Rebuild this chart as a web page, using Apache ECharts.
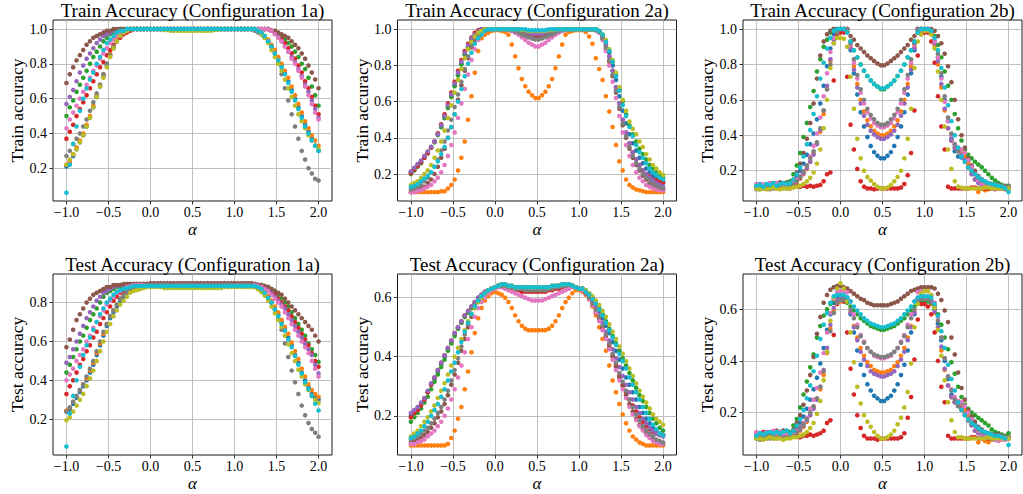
<!DOCTYPE html>
<html><head><meta charset="utf-8">
<script src="https://cdn.jsdelivr.net/npm/echarts/dist/echarts.min.js"></script>
<style>html,body{margin:0;padding:0;background:#fff}#c{width:1023px;height:494px}</style>
</head><body><div id="c"></div>
<script>
// ---------------- DATA ----------------
const alphas = [-1.00,-0.96,-0.92,-0.88,-0.84,-0.80,-0.76,-0.72,-0.68,-0.64,-0.60,-0.56,-0.52,-0.48,-0.44,-0.40,-0.36,-0.32,-0.28,-0.24,-0.20,-0.16,-0.12,-0.08,-0.04,
0.00,0.04,0.08,0.12,0.16,0.20,0.24,0.28,0.32,0.36,0.40,0.44,0.48,0.52,0.56,0.60,0.64,0.68,0.72,0.76,0.80,0.84,0.88,0.92,0.96,
1.00,1.04,1.08,1.12,1.16,1.20,1.24,1.28,1.32,1.36,1.40,1.44,1.48,1.52,1.56,1.60,1.64,1.68,1.72,1.76,1.80,1.84,1.88,1.92,1.96,2.00];

const seriesNames = ['run 1','run 2','run 3','run 4','run 5','run 6','run 7','run 8','run 9','run 10'];
const titles = ['Train Accuracy (Configuration 1a)','Train Accuracy (Configuration 2a)','Train Accuracy (Configuration 2b)',
                'Test Accuracy (Configuration 1a)','Test Accuracy (Configuration 2a)','Test Accuracy (Configuration 2b)'];
const yAxisTitles = ['Train accuracy','Train accuracy','Train accuracy','Test accuracy','Test accuracy','Test accuracy'];
const xAxisTitle = 'α';
const xTicks = [-1.0,-0.5,0.0,0.5,1.0,1.5,2.0];
const yTicksTrain = [0.2,0.4,0.6,0.8,1.0];
const yTicksTest1a = [0.2,0.4,0.6,0.8];
const yTicksTest2 = [0.2,0.4,0.6];

// accuracies in percent, one value per alpha
// ---- Train 1a ----
const tr1a_blue = [21,23,27,31,35,39,44,49,55,61,67,73,79,85,89,93,96,98,99,100,100,100,100,100,100,
100,100,100,100,100,100,100,100,100,100, 100,100,100,100,100,100,100,100,100,100, 100,100,100,100,100,100,100,100,100,100, 100,
100,99,97,95,93,90,87,83,79,75,70,65,60,55,50,45,41,37,33,30];
const tr1a_orange = [22,24,28,32,36,40,45,50,56,62,68,74,80,86,90,94,96,98,99,100,100,100,100,100,100,
100,100,100,100,100,100,100,100,100,100, 100,100,100,100,100,100,100,100,100,100, 100,100,100,100,100,100,100,100,100,100, 100,
100,99,98,96,94,91,88,84,80,76,72,67,62,57,52,47,43,39,36,33];
const tr1a_green = [50,55,59,64,68,72,76,80,84,87,90,93,95,97,98,99,100,100,100,100,100,100,100,100,100,
100,100,100,100,100,100,100,100,100,100, 100,100,100,100,100,100,100,100,100,100, 100,100,100,100,100,100,100,100,100,100, 100,
100,100,100,100,100,99,98,97,96,94,92,90,87,84,80,77,72,67,62,56];
const tr1a_red = [37,41,45,50,54,58,62,66,70,74,78,81,85,88,91,93,95,97,98,99,100,100,100,100,100,
100,100,100,100,100,100,100,100,100,100, 100,100,100,100,100,100,100,100,100,100, 100,100,100,100,100,100,100,100,100,100, 100,
100,100,100,100,100,99,98,96,94,92,89,86,83,79,75,70,66,61,56,51];
const tr1a_purple = [57,61,65,70,75,79,83,86,89,92,94,96,97,98,99,99,100,100,100,100,100,100,100,100,100,
100,100,100,100,100,100,100,100,100,100, 100,100,100,100,100,100,100,100,100,100, 100,100,100,100,100,100,100,100,100,100, 100,
100,100,100,100,100,99,98,96,93,90,87,84,81,77,73,68,64,59,54,49];
const tr1a_brown = [69,74,78,82,85,88,91,93,95,96,97,98,99,99,100,100,100,100,100,100,100,100,100,100,100,
100,100,100,100,100,100,100,100,100,100, 100,100,100,100,100,100,100,100,100,100, 100,100,100,100,100,100,100,100,100,100, 100,
100,100,100,100,100,99,99,98,97,96,95,93,91,89,86,83,79,75,71,66];
const tr1a_pink = [43,48,52,56,60,64,68,72,76,79,83,86,89,92,94,96,97,98,99,100,100,100,100,100,100,
100,100,100,100,100,100,100,100,100,100, 100,100,100,100,100,100,100,100,100,100, 100,100,100,100,100,100,100,100,100,100, 100,
100,100,100,100,100,99,97,95,93,90,87,83,80,76,72,67,62,57,52,48];
const tr1a_gray = [27,30,34,37,40,44,48,53,58,63,68,74,80,85,90,93,96,98,99,100,100,100,100,100,100,
100,100,100,100,100,100,100,100,100,100, 100,100,100,100,100,100,100,100,100,100, 100,100,100,100,100,100,100,100,100,100, 100,
99,98,97,95,93,90,86,81,74,66,59,51,44,37,30,25,20,17,14,13];
const tr1a_olive = [22,25,28,31,35,39,44,49,55,61,67,72,78,84,89,93,96,98,99,100,100,100,100,100,100,
100,100,100,100,99.5,99.5,99,99,99,99, 99,99,99,99,99,99,99,99,99,99.5, 99.5,100,100,100,100,100,100,100,100,100, 100,
100,99,97,95,92,88,84,80,76,71,66,61,56,51,47,43,39,36,33,31];
const tr1a_cyan = [6,22,34,44,53,60,66,71,75,80,84,88,92,94,96,98,99,99,100,100,100,100,100,100,100,
100,100,100,100,100,100,100,100,100,100, 100,100,100,100,100,100,100,100,100,100, 100,100,100,100,100,100,100,100,100,100, 100,
100,99,98,96,93,90,86,82,78,74,69,64,59,54,49,44,40,36,33,30];

// ---- Test 1a ----
const te1a_blue = [24,25,28,31,34,37,40,44,48,53,58,63,68,72,75,78,81,83,85,86,87,87.5,88,88,88.5,
88.5,88.5,88.5,88.5,88.5,88.5,88.5,88.5,88.5,88.5, 88.5,88.5,88.5,88.5,88.5,88.5,88.5,88.5,88.5,88.5, 88.5,88.5,88.5,88.5,88.5,88.5,88.5,88.5,88.5,88.5, 88.5,
88.5,88,86.5,84.5,83,80,77,74,70,67,62,58,53,49,44,40,36.5,33,31,30];
const te1a_orange = [24.5,26,29,32,35,38,41,45,49,54,59,64,69,73,76,79,82,84,85.5,86.5,87.5,88,88.5,88.5,89,
89,89,89,89,89,89,89,89,89,89, 89,89,89,89,89,89,89,89,89,89, 89,89,89,89,89,89,89,89,89,89, 89,
89,88,87,85.5,83.5,81,78,75,71,67.5,64,59.5,55,51,46,42,38,35,33,31.5];
const te1a_green = [44,48,52,56,60,63,67,71,74,77,80,83,85,86,87,88,88.5,89,89,89.5,89.5,89.5,89.5,89.5,89.5,
89.5,89.5,89.5,89.5,89.5,89.5,89.5,89.5,89.5,89.5, 89.5,89.5,89.5,89.5,89.5,89.5,89.5,89.5,89.5,89.5, 89.5,89.5,89.5,89.5,89.5,89.5,89.5,89.5,89.5,89.5, 89.5,
89.5,89,89,88.5,88,87,86,84,82,80,78,75,72,69,66,63,59,56,53,49.5];
const te1a_red = [33,37,40,44,48,51,55,58,62,65,69,72,75,78,81,83,85,86,87,88,88.5,89,89,89.5,89.5,
89.5,89.5,89.5,89.5,89.5,89.5,89.5,89.5,89.5,89.5, 89.5,89.5,89.5,89.5,89.5,89.5,89.5,89.5,89.5,89.5, 89.5,89.5,89.5,89.5,89.5,89.5,89.5,89.5,89.5,89.5, 89.5,
89.5,89,88.5,88,87,86,84,82,80,78,76,73,70,67,64,61,58,54,50,47];
const te1a_purple = [49,52,56,60,64,68,72,75,78,81,83,85,86,87,88,88.5,89,89,89.5,89.5,89.5,89.5,89.5,89.5,89.5,
89.5,89.5,89.5,89.5,89.5,89.5,89.5,89.5,89.5,89.5, 89.5,89.5,89.5,89.5,89.5,89.5,89.5,89.5,89.5,89.5, 89.5,89.5,89.5,89.5,89.5,89.5,89.5,89.5,89.5,89.5, 89.5,
89,89,88.5,87.5,86.5,85,83,81,79,77,74,71,68,65,62,59,56,53,48,43.5];
const te1a_brown = [57,61,66,71,74,77,80,82,84,85,86,87,88,88,89,89,89,89.5,89.5,89.5,89.5,89.5,89.5,89.5,89.5,
90,90,90,90,90,90,90,90,90,90, 90,90,90,90,90,90,90,90,90,90, 90,90,90,90,90,90,90,90,90,90, 90,
89.5,89,89,88.5,88,87,86,85,84,82,80,78,76,74,72,70,68,66,63,60];
const te1a_pink = [40,43,46,50,53,56,60,63,67,70,73,76,79,81,83,85,86,87,88,88.5,89,89,89,89,89,
89,89,89,89,89,89,89,89,89,89, 89,89,89,89,89,89,89,89,89,89, 89,89,89,89,89,89,89,89,89,89, 89,
89,88.5,88,87,86,84,82,80,78,75,72,69,66,63,60,57,54,50,46,42];
const te1a_gray = [24,26,29,32,35,38,42,46,50,55,60,65,69,73,76,79,82,84,85.5,86.5,87.5,88,88.5,88.5,89,
89,89,89,89,89,89,89,89,89,89, 89,89,89,89,89,89,89,89,89,89, 89,89,89,89,89,89,89,89,89,89, 89,
88,87,86,84.5,82.5,80,76.5,72,66,59,52,45,39,33,27,22,18,15,13,11];
const te1a_olive = [19.5,21,24,27,30,33,37,41,45,50,55,60,65,69,73,76,79,81,83,85,86,86.5,87,87.5,88,
88,88,88,88,87.5,87.5,87.5,87.5,87.5,87.5, 87.5,87.5,87.5,87.5,87.5,87.5,87.5,87.5,87.5,87.5, 87.5,87.5,88,88,88,88,88,88,88,88, 88,
88,87,85.5,83.5,81,78,74.5,71,67.5,63,58.5,54,50,45.5,42,38,35,32,30,28.5];
const te1a_cyan = [6,23,32,40,47,53,58,62,66,70,74,77,80,82,84,85.5,86.5,87,87.5,88,88.5,88.5,88.5,88.5,88.5,
88.5,88.5,88.5,88.5,88.5,88.5,88.5,88.5,88.5,88.5, 88.5,88.5,88.5,88.5,88.5,88.5,88.5,88.5,88.5,88.5, 88.5,88.5,88.5,88.5,88.5,88.5,88.5,88.5,88.5,88.5, 88.5,
88.5,88,87,85,82.5,80,76.5,73,69,65.5,61,57,52.5,48,43.5,39,35.5,32,28,24.5];

// ---- Train 2a ----
const tr2a_blue = [21,23,25,27,29.5,32,35,38,42,46,51,57,63,69,75,81,86,90,94,97,99,100,100,100,100,
100,100,100,100,100,99.5,99.5,99,98.5,98,97.5,97,96.5,96.5,97,97.5,98,98.5,99,99.5,99.5,100,100,100,100,100,
100,100,100,100,100,99,96,92,87,80,72,63,55,48,42,37,33,29,26,23,21,19,17.5,16,15];
const tr2a_orange = [10,10,10,10,10,10,10,10,10,10.5,10.5,12,14,17,22,29,38,50,63,76,88,95,97,98,99,
99.5,99.5,99,98.5,97,91.5,85,78.5,72.5,68.5,65.5,63.5,62,62,63.5,65.5,68.5,72.5,78.5,85,91.5,97,98.5,99,99.5,99.5,
99.5,98.5,96,92,84,78,72,63,54.5,46,36,27,22,17,14,12.5,11.5,11,10.5,10,10,10,10,10,10];
const tr2a_green = [20,22,24,26,29,31.5,34.5,37.5,41.5,46,51,56.5,62.5,68.5,74.5,80.5,86,90.5,94.5,97,99,100,100,100,100,
100,100,100,100,100,100,100,99.5,99,99,98.5,98,98,98,98,98.5,99,99,99.5,100,100,100,100,100,100,100,
100,100,100,100,100,99,97,93,88,82,75,67,60,53,47,42,38,34,31,28,25,23,21,19.5,18];
const tr2a_red = [20.5,22.5,24.5,26.5,29,31.5,34.5,38,42.5,47.5,53,59,65,71,77,83,88,92,95.5,98,99.5,100,100,100,100,
100,100,100,100,100,99.5,99,98.5,98,97.5,96.5,96,95.5,95.5,96,96.5,97.5,98,98.5,99,99.5,100,100,100,100,100,
100,100,100,100,100,99,96,91,85,77,68,59,50,43,37,32,28,25,22,20,18.5,17,16.5,16,15.5];
const tr2a_purple = [21.5,23.5,25.5,27.5,30,32.5,35,38,42,47,52,58,64,70,76,82,87,91,95,97,99,100,100,100,100,
100,100,100,100,100,100,99.5,99.5,99,98.5,98,97.5,97.5,97.5,97.5,98,98.5,99,99.5,99.5,100,100,100,100,100,100,
100,100,100,100,100,99,96,91,85,77,68,59,50,43,37,32,28,25,22,20,18,16.5,15,14,13];
const tr2a_brown = [10,10.5,11,12,13,15,17,20,24,29,34,40,46,53,61,69,77,84,90,94,97,99,100,100,100,
100,100,100,100,100,99.5,99,98.5,97.5,96.5,96,95,94.5,94.5,95,96,96.5,97.5,98.5,99,99.5,100,100,100,100,100,
100,100,100,100,99.5,98.5,95,89,82,74,65,56,47,40,34,29,25,22,19,17,15,13.5,12.5,12,11.5];
const tr2a_pink = [10,10,10.5,11,12,13,14,16,18,21,25,30,36,43,51,59,67,75,83,89,94,97,99,100,100,
100,100,100,100,99.5,99,98,97,95.5,94,92.5,91.5,90.5,90.5,91.5,92.5,94,95.5,97,98,99,99.5,100,100,100,100,
100,100,100,100,99.5,98,94,88,80,71,62,52,43,36,30,25,21,18,16,14,13,12,11.5,11,11];
const tr2a_gray = [11.5,12,13,14,16,18,21,24,28,33,38,44,50,57,64,71,78,85,91,95,98,99,100,100,100,
100,100,100,100,100,99.5,99,98,97,96.5,95.5,95,94.5,94.5,95,95.5,96.5,97,98,99,99.5,100,100,100,100,100,
100,100,100,100,99.5,98.5,95,90,83,75,66,57,48,41,35,30,26,23,20,18,16,14.5,13.5,12.5,12];
const tr2a_olive = [14,15,16,18,20,22,25,29,33,38,44,51,58,65,72,78,84,89,93,96,98,99,100,100,100,
100,100,100,100,100,100,100,100,99.5,99.5,99,99,99,99,99,99,99.5,99.5,100,100,100,100,100,100,100,100,
100,100,100,100,100,99,97,94,89,83,76,68,61,55,49,45,42,38,35,31,28,25,23,21,19.5];
const tr2a_cyan = [13,13.5,14.5,16,17.5,19,21,24,27,31,35,40,46,53,60,67,74,81,87,92,95,97,99,100,100,
100,100,100,100,100,100,100,100,100,100,99.5,99.5,99.5,99.5,99.5,99.5,100,100,100,100,100,100,100,100,100,100,
100,100,100,100,100,99,97,93,88,82,74,66,58,52,46,41,36,32,29,26,23,21,19.5,18,17];

// ---- Test 2a ----
const te2a_blue = [20,21,22.5,24,25.5,28,30.5,32.5,35,37.5,40,42.5,45,47.5,49.5,51.5,53.5,55,56.5,58,59.5,60.5,61.5,62.5,63,
63.5,64,64,64,63.5,63.5,63,63,63,63,63,63,63,63,63,63,63,63.5,63.5,64,64,64,64.5,64,63.5,63,
63,62,60.5,59,57.5,55.5,53,50.5,48,45,42,39,36,33,30.5,28,25.5,23,21,19,17.5,16,15,14,13.5];
const te2a_orange = [10,10,10,10,10,10,10,10,10,10,10,10.5,12.5,15,19,23,29,35,41.5,48,53,56.5,59,60.5,61.5,
62,61.5,61,60,58.5,56.5,54,52,50.5,49.5,49,49,49,49,49,49,49.5,50.5,52,54,56.5,58.5,60,61.5,62.5,62.5,
62,61,59.5,57,54,50,46,42,37,32,28,24,20.5,17.5,15,13,12,11,10.5,10,10,10,10,10,10];
const te2a_green = [18,19.5,21,22.5,24.5,26.5,29,31.5,34,36.5,39,42,44.5,47,49.5,51.5,53.5,55,56.5,58,59.5,60.5,61.5,62.5,63,
63.5,64,64,64,63.5,63.5,63,63,63,63,63,63,63,63,63,63,63,63.5,63.5,64,64,64,64.5,64,63.5,63,
63,62.5,61.5,60,58.5,56.5,54.5,52,49.5,47,44.5,42,39.5,37,34.5,32,29.5,27,25,23,21,19,17.5,16,15];
const te2a_red = [19.5,21,22,23.5,25.5,28,30.5,33,35.5,38,40.5,43,45.5,48,50,52,54,55.5,57,58.5,60,61,62,62.5,63,
63.5,64,64,63.5,63,63,62.5,62.5,62,62,62,62,62,62,62,62,62.5,62.5,63,63,63.5,64,64,64,63.5,63,
62.5,61.5,60,58,55.5,53,50,47,44,40.5,37,33.5,30.5,28,25.5,23.5,21.5,19.5,18,16.5,15.5,14.5,14,13.5,13.5];
const te2a_purple = [21,22,23,24.5,26,28.5,31,33,35.5,38,40.5,43,45.5,48,50,52,54,55.5,57,58.5,60,61,62,62.5,63,
63.5,64,64,64,63.5,63.5,63,63,63,63,63,63,63,63,63,63,63,63.5,63.5,64,64,64,64.5,64,63.5,63,
63,62,60.5,58.5,56.5,54,51.5,48.5,45.5,42.5,39.5,36.5,33.5,30.5,28,25.5,23,21,19,17.5,16,15,14,13.5,13];
const te2a_brown = [11,11.5,12,12.5,13.5,14.5,16,17.5,19.5,21.5,24,27,30.5,34,38,42,46,50,53.5,56.5,58.5,60,61.5,62.5,63,
63.5,64,64.5,64.5,64,64,63.5,63.5,63.5,63.5,63.5,63.5,63.5,63.5,63.5,63.5,63.5,64,64,64,64.5,64.5,64.5,64,63.5,63,
63,61.5,59.5,57.5,55,52.5,49.5,46.5,43,40,36.5,33,30,27,24,21.5,19,17,15.5,14,13,12,11.5,11,10.5];
const te2a_pink = [10.5,10.5,11,11.5,12,13,14,15,16.5,18,20,22.5,25.5,29,33,37,41.5,46,50,53.5,56.5,58.5,60,61.5,62.5,
63,63.5,63.5,63,62.5,62,61.5,61,60.5,60,59.5,59,59,59,59,59.5,60,60.5,61,61.5,62,62.5,63,63.5,63.5,63,
62.5,61.5,59.5,57.5,55,52,49,46,42.5,39,35.5,32,29,26,23,20.5,18.5,16.5,15,13.5,12.5,11.5,11,10.5,10.5];
const te2a_gray = [12,12.5,13,14,15,16,17.5,19,21,23,25.5,28.5,32,35.5,39.5,43.5,47.5,51,54.5,57,59,60.5,61.5,62.5,63,
63.5,64,64,64,63.5,63.5,63,63,63,62.5,62.5,62.5,62.5,62.5,62.5,62.5,63,63,63.5,63.5,64,64,64.5,64,63.5,63,
63,61.5,60,58,56,53.5,50.5,47.5,44.5,41,38,34.5,31.5,28.5,25.5,23,20.5,18.5,16.5,15,14,13,12,11.5,11];
const te2a_olive = [13,14,15,16.5,18,19.5,21.5,23.5,26,28.5,31,34,37,40,43,46,49,52,54.5,56.5,58.5,60,61.5,62.5,63,
63.5,64,64.5,64.5,64,64,63.5,63.5,63.5,63.5,63.5,63.5,63.5,63.5,63.5,63.5,63.5,64,64,64,64.5,64.5,64.5,64,63.5,63,
63,62.5,61.5,60.5,59,57.5,55.5,53.5,51,48.5,46,43.5,41,38.5,36,33.5,31,28.5,26.5,24.5,22.5,20.5,19,18,17];
const te2a_cyan = [12.5,13,14,15,16.5,18,20,22,24,26.5,29,32,35,38,41.5,45,48.5,51.5,54.5,57,59,60.5,61.5,62.5,63,
63.5,64,64.5,64.5,64,64,63.5,63.5,63.5,63.5,63.5,63.5,63.5,63.5,63.5,63.5,63.5,64,64,64,64.5,64.5,64.5,64,63.5,63,
63,62,61,59.5,58,56,54,51.5,49,46.5,44,41,38.5,36,33,30.5,28,25.5,23,21,19,17,15.5,14,13.5];

// ---- Train 2b ----
const tr2b_blue = [11,10.5,12,11,12.5,11.5,12,13,12.5,12,
12,14,16.5,20,24,29,35,41,49,58,68,79,89,97,100,
100,100,100,88,75,63,53,45,39,34,30.5,28.5,27,27,28.5,30.5,34,39,45,53,63,75,88,100,100,100,
100,98,93,84,73,60,48,38,31,28,27.5,27,25,22,19,16.5,15,13.5,12.5,12,11.5,11,11,10.5,10.5];
const tr2b_orange = [10,11,10,11.5,10.5,11,10,11,10.5,11,
11,12,13.5,15.5,18,21,25,30,36,42,52,66,82,94,99,
100,100,100,90,79,69,60,53.5,48.5,45,42.5,41,40,40,41,42.5,45,48.5,53.5,60,69,79,90,100,100,100,
99,97,91,80,67,54,44,37,33,31,30,28,24,19,15,8,10,9,9.5,10,11,10,10,9.5,10];
const tr2b_green = [10.5,10,11,10,11.5,12,12.5,12,13,13.5,
14,18,23,30,39,47,56,65,76,83,90,94,98,100,100,
100,100,98,93,88,84,80,76.5,73.5,71,69,67.5,66,66,67.5,69,71,73.5,76.5,80,84,88,93,98,100,100,
100,99,96,91,84,76,68,60,52,44,37,32,29,27,25,23.5,22,20,18,16,14.5,13,12,11.5,11.5];
const tr2b_red = [10,11,12,11,11.5,12.5,11.5,11,12.5,11,
10,11,11.5,11,11.5,11,11.5,11,11.5,12,14,18,19,71,97,
98,98,73,46,32,21,14,11,10,10,9.5,10,10,10,10,10,10,10,10.5,12.5,17.5,30,54,85,97,98,
98,93,81,62,45,32,11,10,10,10,10,10,10,10.5,10.5,10,10,10,10,10,10,10,10,10,10];
const tr2b_purple = [12,12.5,11.5,12,11,12,12.5,11.5,11,11,
11,12,14,16,18.5,21.5,25,29,35,43,54,68,83,94,99,
100,100,100,89,77,67,58,51,46,42.5,40.5,39,38,38,39,40.5,42.5,46,51,58,67,77,89,100,100,100,
100,98,92,82,69,55,44,37,33,31,29,26,22,18,15,13,12,11,10.5,10,9.5,10,10.5,10,10];
const tr2b_brown = [10,10.5,11,12,12.5,13,12.5,13.5,12,13,
13,15,19,24,30,38,47,58,72,85,93,97,99,100,100,
100,100,99,96,94,91,89,87,85,83.5,82,80.5,79.5,79.5,80.5,82,83.5,85,87,89,91,94,96,99,100,100,
100,100,99,96,92,86,79,70,60,49,40,33,27,23,20,17,15,14,13,12.5,12,12,11.5,11,11];
const tr2b_pink = [12.5,11.5,12,12.5,13,12.5,13,12,12.5,11.5,
12,13,15,17,19.5,23,28,34,41,50,62,75,87,95,99,
100,100,100,91,81,72,64,58,53,49.5,47,45.5,44.5,44.5,45.5,47,49.5,53,58,64,72,81,91,100,100,100,
100,98,93,84,72,59,48,40,35,33,32,30,26,22,18,15,13,12,11,10.5,9.5,10,10.5,9.5,10.5];
const tr2b_gray = [9.5,9.5,10,10.5,9.5,10,11,10,10.5,10,
11,12,14,16.5,19.5,23,27,31,36,44,54,66,80,92,98,
100,100,100,92,83,74,66,60,55,51.5,49,47,46,46,47,49,51.5,55,60,66,74,83,92,100,100,100,
100,99,95,86,75,62,50,41,35,31,28,25,22,20,18,16,14.5,13.5,13,12.5,12,12,11.5,11,11];
const tr2b_olive = [10,9.5,10,9.5,10,10.5,10,9.5,10,10,
10,10.5,11,11.5,12.5,14,16,19,24,32,44,60,78,92,95,
95,94.5,90,73,55,38,27,20,16.5,14.5,12.5,11,10,10,10.5,12,14,16.5,20,27,38,55,78,93,97,99,
99,97,89,76,60,45,32,21,14,11,10.5,10,10,10,10,10,10,10.5,10.5,10,10,10,10,10,10];
const tr2b_cyan = [11.5,12,11,12.5,12,13,11.5,12.5,13,12.5,
13,15,18,22,28,35,43,52,62,72,81,89,95,99,100,
100,100,98,93,88,84,80,76.5,73.5,71,69,67.5,66.5,66.5,67.5,69,71,73.5,76.5,80,84,88,93,98,100,100,
100,99,95,88,78,67,57,48,40,33,28,25,22,20,18,16.5,15,14,13,12.5,12,11.5,11,10,8];

// ---- Test 2b ----
const te2b_blue = [11,11.5,10.5,12,11.5,12.5,11,12,13,12,
11,12.5,14,16,18.5,21.5,25,29,33.5,39,45,52,58,62.5,64.5,
64.5,64.5,64.5,58,51,44,38.5,34.5,31,28.5,26.5,25.5,24.5,24.5,25.5,26.5,28.5,31,34.5,38.5,44,51,58,64,64,64,
64,63,60,54.5,48,40,33,27,24,23,22.5,21.5,20,17.5,15.5,14,13,12,11.5,11,11,10.5,10.5,10.5,10.5];
const te2b_orange = [10.5,10,11,10.5,11.5,10,11,10.5,11,10.5,
10.5,11,12,13,14.5,16.5,19,22,25.5,29,34.5,43,52.5,59.5,62.5,
63,63,63,59,53.5,49,45,42,39.5,38,36.5,36,35.5,35.5,36,36.5,38,39.5,42,45,49,53.5,59,63.5,64,64,
63.5,62,58.5,52,44,36.5,30.5,26,24,22.5,22,21,18.5,15.5,13,8.5,10,9,8.5,9.5,10.5,10,10,9.5,10];
const te2b_green = [10,11,10.5,11,11,12,12,12.5,12.5,13,
12.5,15,17.5,22,27,32,37.5,42.5,49,53.5,57.5,60,62,63.5,63.5,
63.5,63.5,62.5,61,59.5,58,56.5,55.5,54.5,53.5,53,52.5,52,52,52.5,53,53.5,54.5,55.5,56.5,58,59.5,61,62.5,63,63,
63,62.5,61,58,54,49,44.5,39.5,35,30,26,23,21.5,20,19,18,17,16,15,13.5,12.5,12,11.5,11,12];
const te2b_red = [11,10,12.5,11.5,11,12,12.5,11,11.5,12,
10.5,11,11,10.5,11,11,11.5,11,11.5,12,13,16,17,50,62,
64,63,51,37,27,19,14,11,10,10,10,9.5,10,10,10,10,10,10,10.5,12,18,26,40.5,56,62,62,
61,58,51,40,30,24,11,10,10,10,10,10,10,10.5,10.5,10,10,10,10,10,10,10,10,10,10];
const te2b_purple = [12,11.5,12,12.5,11.5,11,12,12,11,11.5,
10.5,11,12.5,13.5,15,17,19,21.5,25,30,36.5,45,54,60.5,63.5,
64,64,64,58.5,53,48,43.5,40.5,38,36,35,34.5,34,34,34.5,35,36,38,40.5,43.5,48,53,58.5,64,64,64,
64,63,59,53,45.5,37,30.5,26,24,22.5,21.5,19.5,17,15,13,12,11,10.5,10.5,10,9.5,10,10.5,10,10];
const te2b_brown = [10.5,11,10.5,11.5,12,12.5,13,12.5,13,12.5,
12,13.5,16,19,23,28.5,34.5,41.5,50.5,57,62.5,65.5,67.5,68.5,69,
69,68.5,68,67,66,65,64,63.5,62.5,62,61.5,61.5,61.5,61.5,61.5,62,62.5,63,64,65,66,67,67.5,68,68.5,68.5,
68.5,68.5,68,66,63.5,59.5,55,49,42.5,35.5,29.5,25,21,18.5,16.5,14.5,13.5,12.5,12,11.5,11.5,11.5,11,10.5,10.5];
const te2b_pink = [12.5,12,11.5,12,12.5,13,12,12.5,12,11.5,
11.5,12,13,14.5,16,18,21.5,25,29.5,35.5,43,51,58.5,64,66.5,
67,67,66.5,63,58,54,50,47.5,45,43.5,42,41.5,41,41,41.5,42,43.5,45,47.5,50,54,58,63,66.5,67,67,
67,65.5,62.5,57,49,41,34,29,26,24.5,24,22.5,20,17.5,15,13,12,11.5,10.5,10.5,10,9,9.5,9.5,10];
const te2b_gray = [10,9.5,10.5,10,10,10.5,10,11,10,10.5,
10.5,11,12.5,14,15.5,17.5,20,22.5,25.5,30,36,43.5,51.5,58.5,62.5,
63.5,63.5,63.5,60,56.5,53,49.5,47,45,43.5,42.5,42,41.5,41.5,42,42.5,43.5,45,47,49.5,53,56.5,60,63.5,64,64,
64,63.5,61,55.5,49,41,34,28.5,25,22.5,21,19,17,16,15,13.5,12.5,12,12,11.5,11,11,11,10.5,10.5];
const te2b_olive = [10,10,9.5,10,10.5,10,10,10,9.5,10,
10,10.5,10.5,11,11.5,12.5,14,16,19.5,24.5,32.5,43.5,55.5,64.5,68,
70,68,63,51,39.5,30,23.5,19,16.5,14.5,12.5,11,10,10,10.5,11.5,13,15.5,18,22,28,39,53,62,66,67,
67,65.5,60.5,52,42,32.5,24,17,12.5,10.5,10.5,10,10,10,10,10,10,10,10.5,10,10,10,10,10,10];
const te2b_cyan = [11,12,11.5,12,12.5,12,12.5,12,12.5,13,
12,13,15,17.5,21,25.5,30.5,36,42,48.5,54,58.5,62.5,65,65.5,
65.5,65.5,64.5,63,61,59.5,58,56.5,55.5,54.5,54,53.5,53,53,53.5,54,54.5,55.5,56.5,58,59.5,61,63,64.5,65,65,
65,64.5,62,57.5,51.5,45,38.5,33,28.5,24,21,19,17.5,16,15,14,13,12.5,12,11.5,11,11,10.5,10,7.5];

// ---------------- LAYOUT / STYLE ----------------
const colors = ['#1f77b4','#ff7f0e','#2ca02c','#d62728','#9467bd','#8c564b','#e377c2','#7f7f7f','#bcbd22','#17becf'];
const panelData = [
  [tr1a_blue,tr1a_orange,tr1a_green,tr1a_red,tr1a_purple,tr1a_brown,tr1a_pink,tr1a_gray,tr1a_olive,tr1a_cyan],
  [tr2a_blue,tr2a_orange,tr2a_green,tr2a_red,tr2a_purple,tr2a_brown,tr2a_pink,tr2a_gray,tr2a_olive,tr2a_cyan],
  [tr2b_blue,tr2b_orange,tr2b_green,tr2b_red,tr2b_purple,tr2b_brown,tr2b_pink,tr2b_gray,tr2b_olive,tr2b_cyan],
  [te1a_blue,te1a_orange,te1a_green,te1a_red,te1a_purple,te1a_brown,te1a_pink,te1a_gray,te1a_olive,te1a_cyan],
  [te2a_blue,te2a_orange,te2a_green,te2a_red,te2a_purple,te2a_brown,te2a_pink,te2a_gray,te2a_olive,te2a_cyan],
  [te2b_blue,te2b_orange,te2b_green,te2b_red,te2b_purple,te2b_brown,te2b_pink,te2b_gray,te2b_olive,te2b_cyan]
];
const yTickSets = [yTicksTrain,yTicksTrain,yTicksTrain,yTicksTest1a,yTicksTest2,yTicksTest2];
const yLimits = [[0.012,1.052],[0.051,1.051],[0.029,1.051],[0.016,0.947],[0.0675,0.68],[0.036,0.736]];
const colLeft = [53,397.5,743];
const rowTop = [20,274];
const W = 279, H = 181;
const SERIF = '"Liberation Serif","Times New Roman",serif';

const fmt = v => (v < 0 ? '\u2212' : '') + Math.abs(v).toFixed(1);

const grid = [], xAxis = [], yAxis = [], series = [], graphic = [];
panelData.forEach((sets, i) => {
  const col = i % 3, row = Math.floor(i / 3);
  const left = colLeft[col], top = rowTop[row];
  grid.push({left, top, width: W, height: H, show: true, borderColor: '#1a1a1a', borderWidth: 1, backgroundColor: 'rgba(0,0,0,0)', containLabel: false});
  xAxis.push({
    type: 'value', gridIndex: i, min: -1.16, max: 2.16, splitNumber: 6, position: 'bottom',
    axisLine: {show: false, onZero: false},
    axisTick: {show: true, inside: false, length: 3.5, lineStyle: {color: '#000', width: 0.8}, customValues: xTicks},
    axisLabel: {customValues: xTicks, formatter: fmt, margin: 4, fontFamily: SERIF, fontSize: 14, color: '#000'},
    splitLine: {show: true, lineStyle: {color: '#b0b0b0', width: 0.8}}
  });
  const yt = yTickSets[i];
  yAxis.push({
    type: 'value', gridIndex: i, min: yLimits[i][0], max: yLimits[i][1], splitNumber: 4, position: 'left',
    axisLine: {show: false, onZero: false},
    axisTick: {show: true, inside: false, length: 3.5, lineStyle: {color: '#000', width: 0.8}, customValues: yt},
    axisLabel: {customValues: yt, formatter: v => v.toFixed(1), margin: 6, fontFamily: SERIF, fontSize: 14, color: '#000'},
    splitLine: {show: true, lineStyle: {color: '#b0b0b0', width: 0.8}}
  });
  sets.forEach((arr, s) => {
    series.push({
      type: 'scatter', name: seriesNames[s], xAxisIndex: i, yAxisIndex: i,
      data: alphas.map((a, k) => [a, arr[k] / 100]),
      symbol: 'circle', symbolSize: 4.6,
      itemStyle: {color: colors[s], opacity: 1},
      emphasis: {disabled: true}, silent: true, animation: false
    });
  });
  const cx = left + W / 2;
  graphic.push({type: 'text', x: cx, y: top - 10, silent: true,
    style: {text: titles[i], fill: '#000', font: '19px ' + SERIF, fontSize: 19, fontFamily: SERIF,
            textAlign: 'center', textVerticalAlign: 'middle', align: 'center', verticalAlign: 'middle'}});
  graphic.push({type: 'text', x: left - 36, y: top + H / 2, rotation: Math.PI / 2, silent: true,
    style: {text: yAxisTitles[i], fill: '#000', font: '17.5px ' + SERIF, fontSize: 17.5, fontFamily: SERIF,
            textAlign: 'center', textVerticalAlign: 'middle', align: 'center', verticalAlign: 'middle'}});
  graphic.push({type: 'text', x: cx, y: top + H + 28, silent: true,
    style: {text: xAxisTitle, fill: '#000', font: 'italic 17px ' + SERIF, fontSize: 17, fontStyle: 'italic', fontFamily: SERIF,
            textAlign: 'center', textVerticalAlign: 'middle', align: 'center', verticalAlign: 'middle'}});
});

const chart = echarts.init(document.getElementById('c'), null, {renderer: 'svg', width: 1023, height: 494});
chart.setOption({
  backgroundColor: '#fff', animation: false, textStyle: {fontFamily: SERIF},
  grid, xAxis, yAxis, series, graphic
});

const bad = [];
panelData.forEach((sets, i) => sets.forEach((a, s) => { if (a.length !== alphas.length) bad.push(i + ':' + s + '=' + a.length); }));
if (bad.length) setTimeout(() => { throw new Error('length mismatch ' + bad.join(' ')); }, 0);
</script></body></html>
